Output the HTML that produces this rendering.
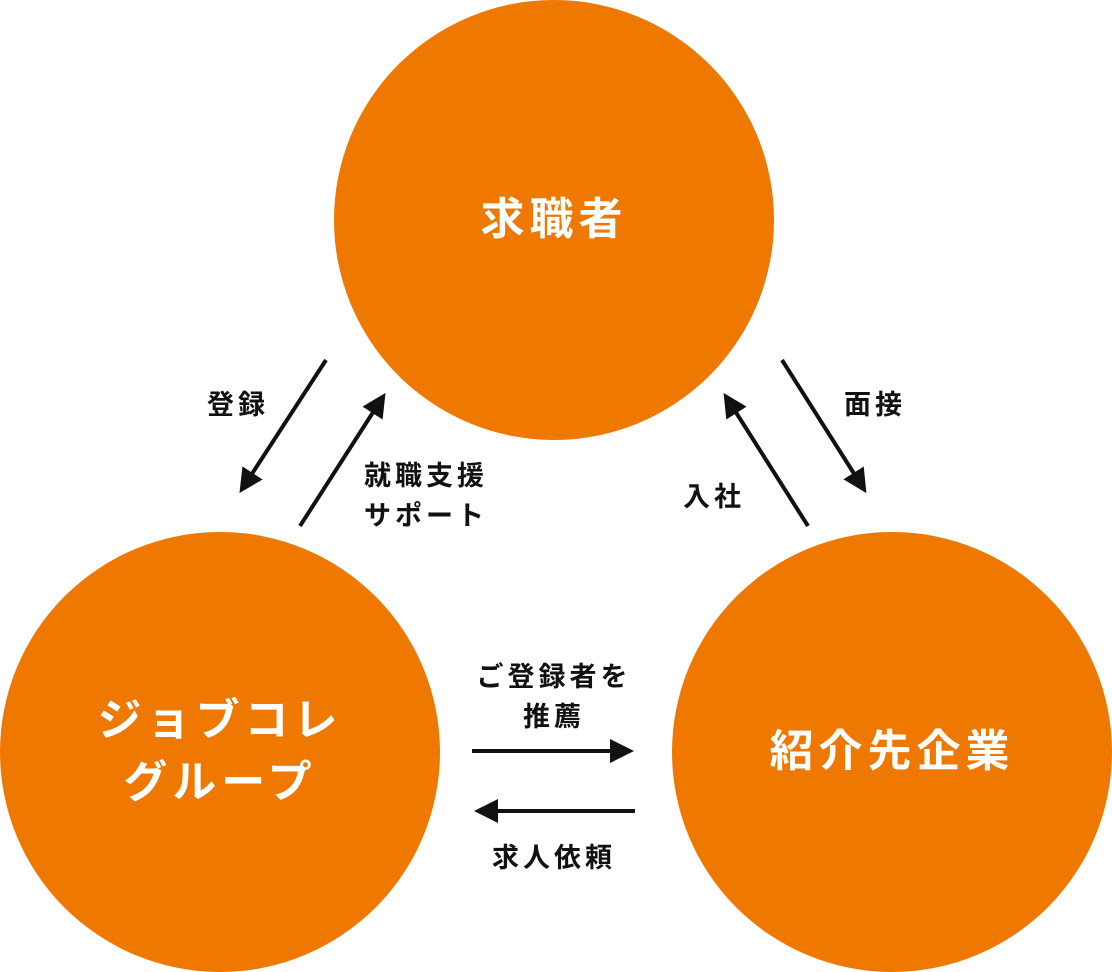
<!DOCTYPE html>
<html><head><meta charset="utf-8"><style>
html,body{margin:0;padding:0;background:#fff;}
body{width:1112px;height:972px;position:relative;overflow:hidden;font-family:"Liberation Sans","Noto Sans CJK JP",sans-serif;}
.c{position:absolute;width:440px;height:440px;border-radius:50%;background:#EE7800;color:#fff;font-weight:bold;font-size:44px;display:flex;align-items:center;justify-content:center;text-align:center;line-height:62px;letter-spacing:5px;}
.l{position:absolute;font-size:27px;font-weight:bold;color:#111;line-height:40px;letter-spacing:4px;text-align:center;white-space:nowrap;}
svg{position:absolute;left:0;top:0;}
</style></head><body>
<div class="c" style="left:334px;top:0px;">求職者</div>
<div class="c" style="left:0px;top:532px;">ジョブコレ<br>グループ</div>
<div class="c" style="left:672px;top:532px;">紹介先企業</div>
<svg width="1112" height="972">
<defs><marker id="a" markerWidth="6" markerHeight="6" refX="3" refY="3" orient="auto" markerUnits="strokeWidth"><path d="M0,0 L6,3 L0,6 z" fill="#111"/></marker></defs>
<g stroke="#111" stroke-width="4" marker-end="url(#a)">
<line x1="326" y1="360" x2="246" y2="483"/>
<line x1="300" y1="526" x2="379" y2="403"/>
<line x1="808" y1="526" x2="730" y2="403"/>
<line x1="782" y1="360" x2="860" y2="483"/>
<line x1="472" y1="751" x2="622" y2="751"/>
<line x1="635" y1="811" x2="486" y2="811"/>
</g></svg>
<div class="l" style="left:188px;top:385px;width:100px;">登録</div>
<div class="l" style="left:364px;top:456px;text-align:left;">就職支援<br>サポート</div>
<div class="l" style="left:825px;top:385px;width:100px;">面接</div>
<div class="l" style="left:664px;top:477px;width:100px;">入社</div>
<div class="l" style="left:434px;top:657px;width:240px;">ご登録者を<br>推薦</div>
<div class="l" style="left:434px;top:838px;width:240px;">求人依頼</div>
</body></html>
